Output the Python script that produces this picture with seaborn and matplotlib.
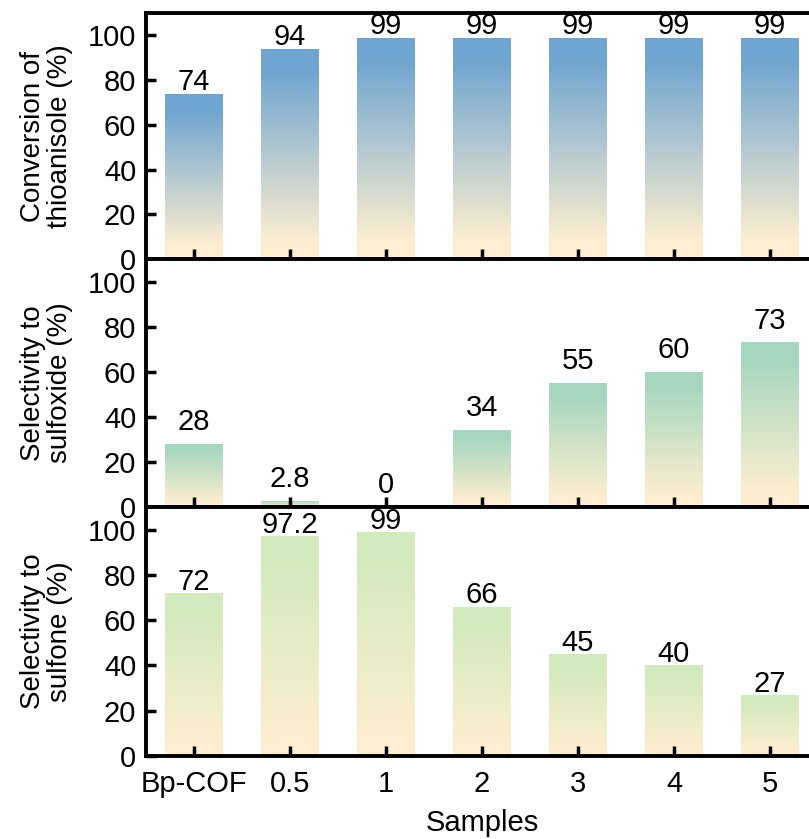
"""Three stacked gradient bar panels: conversion and selectivities per sample."""
import matplotlib
matplotlib.use("Agg")
import matplotlib.pyplot as plt
import numpy as np
import pandas as pd
import seaborn as sns
from matplotlib.colors import LinearSegmentedColormap

samples = ["Bp-COF", "0.5", "1", "2", "3", "4", "5"]
conversion = [74, 94, 99, 99, 99, 99, 99]
sulfoxide = [28, 2.8, 0, 34, 55, 60, 73]
sulfone = [72, 97.2, 99, 66, 45, 40, 27]

conv_labels = ["74", "94", "99", "99", "99", "99", "99"]
sulfoxide_labels = ["28", "2.8", "0", "34", "55", "60", "73"]
sulfone_labels = ["72", "97.2", "99", "66", "45", "40", "27"]

ylabels = ["Conversion of\nthioanisole (%)",
           "Selectivity to\nsulfoxide (%)",
           "Selectivity to\nsulfone (%)"]
top_colors = ["#6fa5d1", "#a6d7bf", "#d2eabd"]
base_color = "#fdeed0"

sns.set_style("ticks", {"axes.edgecolor": "black", "text.color": "black",
                        "xtick.color": "black", "ytick.color": "black",
                        "axes.labelcolor": "black"})
plt.rcParams["font.family"] = ["Liberation Sans", "DejaVu Sans"]


def gradient_fill(ax, top_color):
    cmap = LinearSegmentedColormap.from_list(
        "g", [(0.0, base_color), (0.08, base_color), (0.9, top_color), (1.0, top_color)])
    grad = np.linspace(0, 1, 256).reshape(-1, 1)
    for bar in ax.patches:
        x0, y0 = bar.get_x(), bar.get_y()
        w, h = bar.get_width(), bar.get_height()
        bar.set_facecolor("none")
        bar.set_edgecolor("none")
        if h <= 0:
            continue
        im = ax.imshow(grad, cmap=cmap, origin="lower", aspect="auto",
                       extent=[x0, x0 + w, y0, y0 + h], zorder=1)
        im.set_clip_path(bar)


def main():
    fig = plt.figure(figsize=(8.09, 8.39), dpi=100)
    left, width = 0.1805, 0.8306
    bottoms = [0.6913, 0.3957, 0.0989]
    heights = [0.2932, 0.2956, 0.2968]

    panels = [(conversion, conv_labels, -1.2),
              (sulfoxide, sulfoxide_labels, 3.5),
              (sulfone, sulfone_labels, -1.2)]

    for i, (vals, labels, offset) in enumerate(panels):
        ax = fig.add_axes([left, bottoms[i], width, heights[i]])
        df = pd.DataFrame({"sample": samples, "value": vals})
        sns.barplot(data=df, x="sample", y="value", order=samples, ax=ax,
                    width=0.6, color=top_colors[i], saturation=1, errorbar=None)
        gradient_fill(ax, top_colors[i])
        ax.set_axisbelow(False)

        for x, (v, lab) in enumerate(zip(vals, labels)):
            ax.text(x, v + offset, lab, ha="center", va="bottom",
                    fontsize=21, zorder=3)

        ax.set_xlim(-0.5, 6.5)
        ax.set_ylim(0, 110)
        ax.set_yticks([0, 20, 40, 60, 80, 100])
        ax.set_ylabel(ylabels[i], fontsize=20, linespacing=1.05)
        ax.yaxis.set_label_coords(-0.108, 0.5)
        for sp in ax.spines.values():
            sp.set_linewidth(2.8)
            sp.set_zorder(4)
        ax.tick_params(direction="in", length=7, width=2.5, labelsize=21,
                       pad=7)
        ax.tick_params(axis="x", pad=10)
        if i < 2:
            ax.set_xlabel("")
            ax.tick_params(axis="x", labelbottom=False)
        else:
            ax.set_xlabel("Samples", fontsize=21, labelpad=8)

    fig.savefig("out.png", dpi=100)
    plt.close(fig)


if __name__ == "__main__":
    main()
